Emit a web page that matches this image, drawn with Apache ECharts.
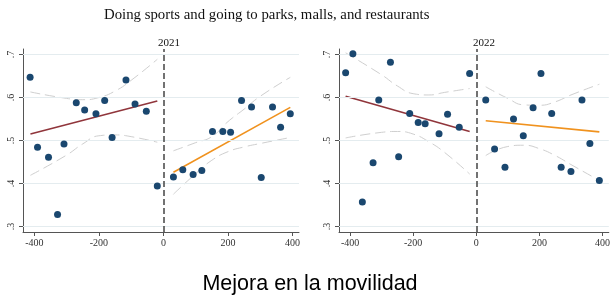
<!DOCTYPE html>
<html>
<head>
<meta charset="utf-8">
<script src="https://cdn.jsdelivr.net/npm/echarts@6/dist/echarts.min.js"></script>
<style>
  html, body { margin: 0; padding: 0; background: #fff; }
  #main { width: 613px; height: 296px; }
</style>
</head>
<body>
<div id="main"></div>
<script>
// ticks
var xTicks = [-400, -200, 0, 200, 400];
var yTicks = [0.3, 0.4, 0.5, 0.6, 0.7];
var yTickLabels = ['.3', '.4', '.5', '.6', '.7'];

// 2021 bins
var x2021 = [-413, -390, -356, -328, -308, -270, -244, -209, -182, -159, -116, -88, -53, -19,
  31, 60, 92, 119, 152, 184, 208, 242, 273, 303, 338, 363, 393];
var y2021 = [0.647, 0.484, 0.461, 0.328, 0.492, 0.588, 0.571, 0.562, 0.593, 0.507, 0.641, 0.585, 0.568, 0.394,
  0.415, 0.432, 0.421, 0.430, 0.521, 0.521, 0.519, 0.593, 0.578, 0.414, 0.578, 0.531, 0.562];

// 2022 bins
var x2022 = [-414, -391, -361, -327, -309, -272, -246, -211, -184, -162, -118, -91, -54, -21,
  30, 58, 91, 118, 149, 180, 205, 239, 269, 300, 335, 360, 390];
var y2022 = [0.658, 0.702, 0.357, 0.448, 0.594, 0.682, 0.462, 0.563, 0.542, 0.539, 0.516, 0.561, 0.531, 0.656,
  0.594, 0.480, 0.438, 0.550, 0.511, 0.576, 0.656, 0.563, 0.438, 0.428, 0.594, 0.493, 0.407];

// linear fits (end points)
var fitL2021 = [[-412, 0.515], [-19, 0.592]];
var fitR2021 = [[31, 0.426], [393, 0.577]];
var fitL2022 = [[-414, 0.603], [-21, 0.521]];
var fitR2022 = [[30, 0.546], [390, 0.520]];

// confidence bands
var ciL2021x = [-412, -300, -250, -200, -150, -100, -19];
var ciL2021hi = [0.613, 0.598, 0.595, 0.600, 0.615, 0.640, 0.689];
var ciL2021lo = [0.419, 0.466, 0.492, 0.511, 0.513, 0.509, 0.496];
var ciR2021x = [31, 100, 150, 200, 250, 300, 393];
var ciR2021hi = [0.476, 0.495, 0.509, 0.544, 0.573, 0.603, 0.647];
var ciR2021lo = [0.375, 0.423, 0.454, 0.474, 0.485, 0.493, 0.507];
var ciL2022x = [-414, -300, -250, -200, -150, -100, -21];
var ciL2022hi = [0.704, 0.653, 0.627, 0.609, 0.606, 0.612, 0.621];
var ciL2022lo = [0.506, 0.519, 0.521, 0.515, 0.497, 0.472, 0.422];
var ciR2022x = [30, 100, 150, 200, 250, 300, 390];
var ciR2022hi = [0.625, 0.598, 0.583, 0.582, 0.590, 0.606, 0.631];
var ciR2022lo = [0.465, 0.486, 0.489, 0.481, 0.465, 0.444, 0.407];

var navy = '#1a476f';
var maroon = '#90353b';
var orange = '#f0921e';
var ciColor = '#cfcfcf';
var serif = 'Liberation Serif';

function pairs(xs, ys) {
  var out = [];
  for (var i = 0; i < xs.length; i++) out.push([xs[i], ys[i]]);
  return out;
}

function xAxisFor(idx) {
  return {
    gridIndex: idx, type: 'value', min: -435, max: 420,
    axisLine: { onZero: false, lineStyle: { color: '#555', width: 1 } },
    axisTick: { show: true, length: 4, customValues: xTicks, lineStyle: { color: '#555' } },
    axisLabel: { customValues: xTicks, fontFamily: serif, fontSize: 10, color: '#333', margin: 6 },
    splitLine: { show: false }
  };
}

function yAxisFor(idx) {
  return {
    gridIndex: idx, type: 'value', min: 0.287, max: 0.713,
    axisLine: { show: true, onZero: false, lineStyle: { color: '#555', width: 1 } },
    axisTick: { show: true, length: 4, customValues: yTicks, lineStyle: { color: '#555' } },
    axisLabel: {
      customValues: yTicks, rotate: 90, fontFamily: serif, fontSize: 10, color: '#333', margin: 7,
      formatter: function (v) {
        for (var i = 0; i < yTicks.length; i++) {
          if (Math.abs(yTicks[i] - v) < 1e-6) return yTickLabels[i];
        }
        return '';
      }
    },
    splitLine: { show: false }
  };
}

function panelSeries(idx, xs, ys, fitL, fitR, ciLx, ciLhi, ciLlo, ciRx, ciRhi, ciRlo) {
  var s = [];
  var band = function (data) {
    return {
      type: 'line', xAxisIndex: idx, yAxisIndex: idx, data: data, smooth: true,
      symbol: 'none', silent: true,
      lineStyle: { color: ciColor, width: 1, type: [10, 5] }
    };
  };
  s.push(band(pairs(ciLx, ciLhi)));
  s.push(band(pairs(ciLx, ciLlo)));
  s.push(band(pairs(ciRx, ciRhi)));
  s.push(band(pairs(ciRx, ciRlo)));
  // horizontal grid lines at the tick values
  s.push({
    type: 'line', xAxisIndex: idx, yAxisIndex: idx, data: [], silent: true,
    markLine: {
      symbol: 'none', silent: true, label: { show: false },
      lineStyle: { color: '#e4ecef', width: 1, type: 'solid' },
      data: yTicks.map(function (v) { return { yAxis: v }; })
    }
  });
  s.push({
    type: 'line', xAxisIndex: idx, yAxisIndex: idx, data: fitL, symbol: 'none',
    lineStyle: { color: maroon, width: 1.6 }
  });
  s.push({
    type: 'line', xAxisIndex: idx, yAxisIndex: idx, data: fitR, symbol: 'none',
    lineStyle: { color: orange, width: 1.6 }
  });
  s.push({
    type: 'scatter', xAxisIndex: idx, yAxisIndex: idx, data: pairs(xs, ys),
    symbolSize: 7, itemStyle: { color: navy, opacity: 1 }, z: 5
  });
  // cutoff
  s.push({
    type: 'line', xAxisIndex: idx, yAxisIndex: idx, data: [], silent: true,
    markLine: {
      symbol: 'none', silent: true, label: { show: false },
      lineStyle: { color: '#444', width: 1.5, type: [6, 3] },
      data: [{ xAxis: 0 }]
    }
  });
  return s;
}

var chart = echarts.init(document.getElementById('main'), null, { renderer: 'canvas' });

var option = {
  backgroundColor: '#fff',
  animation: false,
  title: [
    {
      text: 'Doing sports and going to parks, malls, and restaurants',
      left: 99, top: 3,
      textStyle: { fontFamily: serif, fontSize: 14.8, fontWeight: 'normal', color: '#111' }
    },
    {
      text: '2021', left: 164, top: 33, textAlign: 'center',
      textStyle: { fontFamily: serif, fontSize: 11, fontWeight: 'normal', color: '#111' }
    },
    {
      text: '2022', left: 479, top: 33, textAlign: 'center',
      textStyle: { fontFamily: serif, fontSize: 11, fontWeight: 'normal', color: '#111' }
    },
    {
      text: 'Mejora en la movilidad', left: 305, top: 268, textAlign: 'center',
      textStyle: { fontFamily: 'Liberation Sans', fontSize: 21.5, fontWeight: 'normal', color: '#000' }
    }
  ],
  grid: [
    { left: 23, top: 49, width: 276, height: 183 },
    { left: 339, top: 49, width: 278, height: 183 }
  ],
  xAxis: [xAxisFor(0), xAxisFor(1)],
  yAxis: [yAxisFor(0), yAxisFor(1)],
  series: []
    .concat(panelSeries(0, x2021, y2021, fitL2021, fitR2021,
      ciL2021x, ciL2021hi, ciL2021lo, ciR2021x, ciR2021hi, ciR2021lo))
    .concat(panelSeries(1, x2022, y2022, fitL2022, fitR2022,
      ciL2022x, ciL2022hi, ciL2022lo, ciR2022x, ciR2022hi, ciR2022lo))
};

chart.setOption(option);
</script>
</body>
</html>
